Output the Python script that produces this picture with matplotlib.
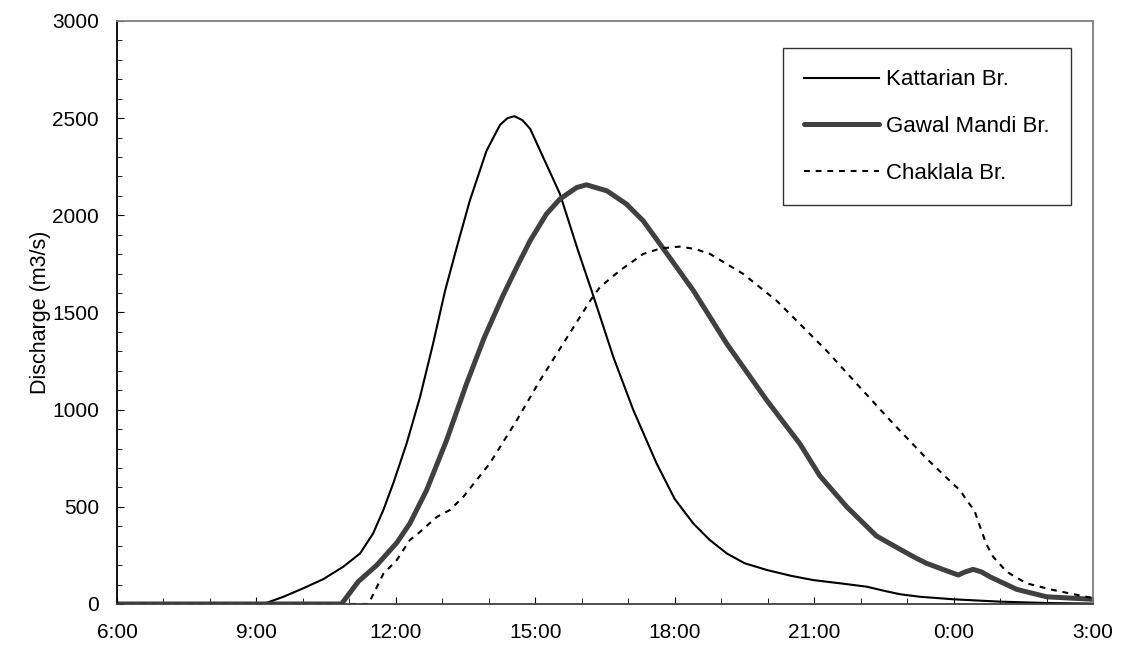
import matplotlib
matplotlib.use("Agg")
import matplotlib.pyplot as plt
from matplotlib.ticker import MultipleLocator, FixedLocator

plt.rcParams['font.family'] = ['Liberation Sans Narrow', 'Liberation Sans', 'DejaVu Sans']

# hours counted from midnight of the first day (24 = 0:00, 27 = 3:00)
kat_hours = [6, 9.15, 9.58, 10.01, 10.44, 10.87, 11.23, 11.51, 11.73, 11.95, 12.23,
             12.52, 12.8, 13.06, 13.31, 13.59, 13.95, 14.24, 14.4, 14.55, 14.72, 14.89,
             15.17, 15.32, 15.53, 15.92, 16.21, 16.68, 17.11, 17.61, 18.0, 18.4, 18.75,
             19.12, 19.5, 19.98, 20.5, 20.98, 21.6, 22.13, 22.5, 22.85, 23.28, 24.0,
             25.0, 26.0, 27.0]
kat_q = [0, 0, 37, 81, 128, 192, 260, 363, 483, 625, 825,
         1065, 1339, 1613, 1835, 2075, 2332, 2465, 2500, 2510, 2490, 2445,
         2298, 2220, 2110, 1818, 1613, 1270, 997, 723, 540, 414, 330,
         260, 210, 175, 145, 123, 105, 89, 68, 50, 37, 24,
         12, 5, 2]

gaw_hours = [6, 10.83, 11.19, 11.59, 12.02, 12.3, 12.66, 13.09, 13.52, 13.9, 14.31,
             14.6, 14.89, 15.24, 15.53, 15.89, 16.1, 16.54, 16.96, 17.32, 17.68,
             18.04, 18.4, 19.12, 19.98, 20.69, 21.12, 21.7, 22.34, 22.85, 23.2,
             23.42, 23.8, 24.1, 24.25, 24.42, 24.6, 24.78, 25.36, 26.0, 27.0]
gaw_q = [0, 0, 115, 200, 315, 414, 585, 842, 1133, 1370, 1590,
         1733, 1870, 2007, 2084, 2143, 2157, 2126, 2058, 1972, 1853,
         1733, 1613, 1339, 1048, 825, 660, 500, 350, 281, 235,
         209, 175, 149, 165, 178, 165, 140, 75, 37, 24]

cha_hours = [6, 11.41, 11.73, 12.02, 12.3, 12.52, 12.88, 13.16, 13.45, 14.02, 14.6,
             15.1, 15.6, 16.18, 16.39, 16.82, 17.32, 17.7, 18.11, 18.45, 18.76,
             19.47, 20.19, 21.26, 21.98, 22.7, 23.42, 24.0, 24.14, 24.28, 24.45,
             24.57, 24.7, 24.85, 25.14, 25.57, 26.14, 27.0]
cha_q = [0, 0, 155, 226, 329, 371, 448, 483, 551, 723, 945,
         1150, 1340, 1560, 1630, 1716, 1801, 1830, 1839, 1826, 1801,
         1699, 1561, 1305, 1116, 928, 748, 615, 585, 534, 480,
         397, 310, 243, 166, 106, 72, 30]

tick_hours = [6, 9, 12, 15, 18, 21, 24, 27]
tick_labels = ['6:00', '9:00', '12:00', '15:00', '18:00', '21:00', '0:00', '3:00']

fig = plt.figure(figsize=(11.25, 6.64), dpi=100)
ax = fig.add_axes([0.104, 0.0904, 0.8676, 0.878])

ax.plot(kat_hours, kat_q, color='black', lw=1.5, label='Kattarian Br.')
ax.plot(gaw_hours, gaw_q, color='#404040', lw=3.6, label='Gawal Mandi Br.',
        solid_capstyle='round', solid_joinstyle='round')
ax.plot(cha_hours, cha_q, color='black', lw=1.5, linestyle=(0, (2.8, 2.8)),
        label='Chaklala Br.')

ax.set_xlim(6, 27)
ax.set_ylim(0, 3000)
ax.xaxis.set_major_locator(FixedLocator(tick_hours))
ax.set_xticklabels(tick_labels)
ax.xaxis.set_minor_locator(MultipleLocator(1))
ax.yaxis.set_major_locator(MultipleLocator(500))
ax.yaxis.set_minor_locator(MultipleLocator(100))

ax.tick_params(which='both', direction='in', labelsize=15, color='black')
ax.tick_params(axis='x', which='major', length=5, pad=14)
ax.tick_params(axis='x', which='minor', length=4)
ax.tick_params(axis='y', which='major', length=5, pad=13)
ax.tick_params(axis='y', which='minor', length=3.5)

ax.spines['left'].set_color('black')
ax.spines['bottom'].set_color('#404040')
ax.spines['top'].set_color('#808080')
ax.spines['right'].set_color('#808080')
for s in ax.spines.values():
    s.set_linewidth(1.3)

ax.set_ylabel('Discharge (m3/s)', fontsize=15.5, labelpad=1)

leg = ax.legend(loc='upper right', bbox_to_anchor=(0.977, 0.953), fontsize=16,
                handlelength=3.4, handletextpad=0.3, labelspacing=1.15,
                borderpad=0.95, fancybox=False, frameon=True, borderaxespad=0)
leg.get_frame().set_edgecolor('black')
leg.get_frame().set_linewidth(1.0)

fig.savefig('out.png', dpi=100)
